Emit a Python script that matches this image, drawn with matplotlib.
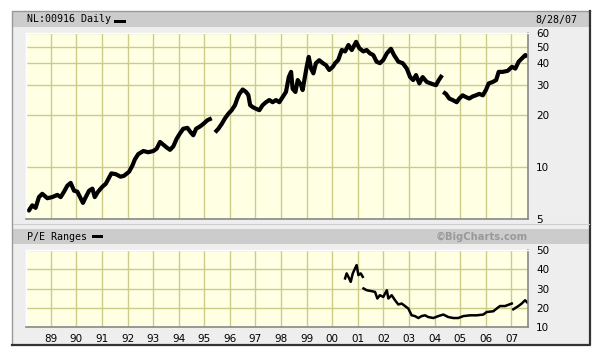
import numpy as np
import matplotlib
matplotlib.use("Agg")
import matplotlib.pyplot as plt
from matplotlib.patches import Rectangle

# ---------------- data (decimal years) ----------------
price_years = [1988.09, 1988.15, 1988.28, 1988.41, 1988.54, 1988.67, 1988.87, 1989.06, 1989.26,
               1989.39, 1989.52, 1989.65, 1989.78, 1989.91, 1990.04, 1990.17, 1990.26, 1990.37,
               1990.50, 1990.63, 1990.72, 1990.85, 1991.02, 1991.15, 1991.28, 1991.37, 1991.54,
               1991.73, 1991.86, 1992.06, 1992.19, 1992.29, 1992.42, 1992.62, 1992.81, 1993.01,
               1993.14, 1993.27, 1993.40, 1993.53, 1993.66, 1993.79, 1993.92, 1994.05, 1994.18,
               1994.34, 1994.47, 1994.57, 1994.68, 1994.83, 1994.96, 1995.12, 1995.29, 1995.35,
               1995.39, 1995.42, 1995.55, 1995.68, 1995.81, 1995.94, 1996.07, 1996.20, 1996.29,
               1996.37, 1996.50, 1996.63, 1996.72, 1996.79, 1996.89, 1997.02, 1997.15, 1997.28,
               1997.41, 1997.54, 1997.67, 1997.80, 1997.93, 1998.06, 1998.19, 1998.30, 1998.39,
               1998.45, 1998.56, 1998.65, 1998.78, 1998.84, 1998.93, 1999.00, 1999.08, 1999.17,
               1999.26, 1999.36, 1999.49, 1999.63, 1999.75, 1999.88, 2000.02, 2000.11, 2000.23,
               2000.37, 2000.50, 2000.63, 2000.76, 2000.93, 2001.06, 2001.21, 2001.34, 2001.47,
               2001.60, 2001.73, 2001.86, 2001.99, 2002.13, 2002.29, 2002.41, 2002.58, 2002.75,
               2002.91, 2003.04, 2003.16, 2003.27, 2003.40, 2003.53, 2003.69, 2003.79, 2003.92,
               2004.05, 2004.16, 2004.29, 2004.30, 2004.33, 2004.44, 2004.57, 2004.70, 2004.86,
               2004.96, 2005.09, 2005.22, 2005.35, 2005.48, 2005.61, 2005.74, 2005.88, 2006.00,
               2006.11, 2006.27, 2006.40, 2006.50, 2006.66, 2006.85, 2007.02, 2007.15, 2007.28,
               2007.41, 2007.54, 2007.62]
price_values = [5.7, 5.6, 6.0, 5.8, 6.7, 7.0, 6.6, 6.7, 6.9,
                6.7, 7.2, 7.8, 8.1, 7.3, 7.2, 6.6, 6.2, 6.7,
                7.3, 7.5, 6.7, 7.2, 7.7, 8.0, 8.7, 9.2, 9.1,
                8.8, 8.9, 9.4, 10.2, 11.1, 11.9, 12.4, 12.2, 12.4,
                12.8, 14.0, 13.5, 13.0, 12.6, 13.2, 14.6, 15.7, 16.7,
                16.9, 15.9, 15.3, 16.7, 17.2, 17.8, 18.7, 19.2, np.nan,
                np.nan, 15.9, 16.7, 17.8, 19.2, 20.4, 21.4, 22.9, 25.0,
                26.6, 28.2, 27.3, 26.2, 22.9, 22.3, 21.8, 21.4, 22.9,
                23.8, 24.5, 23.8, 24.5, 23.8, 25.5, 27.3, 33.3, 35.7,
                28.5, 27.3, 32.0, 29.9, 28.0, 33.3, 38.2, 43.6, 37.3,
                35.0, 40.1, 41.7, 40.1, 39.1, 36.6, 38.2, 40.1, 41.8,
                47.8, 46.9, 51.1, 47.8, 53.3, 48.9, 46.9, 47.8, 45.7,
                44.7, 40.9, 40.1, 41.8, 45.7, 48.6, 44.7, 40.9, 40.1,
                37.3, 33.3, 32.0, 34.2, 30.6, 33.3, 31.2, 30.8, 30.3,
                29.9, 32.0, 34.2, np.nan, 27.3, 26.6, 25.0, 24.5, 23.8,
                25.0, 26.1, 25.5, 25.0, 25.7, 26.1, 26.6, 26.1, 28.0,
                30.6, 31.2, 32.0, 35.7, 35.7, 36.2, 38.2, 37.3, 40.9,
                42.8, 44.7, 43.6]

pe_years = [2000.50, 2000.56, 2000.63, 2000.72, 2000.80, 2000.89, 2000.95, 2001.02, 2001.11,
            2001.19, 2001.20, 2001.22, 2001.34, 2001.54, 2001.67, 2001.76, 2001.86, 2001.99,
            2002.13, 2002.19, 2002.32, 2002.45, 2002.58, 2002.71, 2002.84, 2002.97, 2003.10,
            2003.23, 2003.36, 2003.49, 2003.62, 2003.75, 2003.95, 2004.14, 2004.34, 2004.53,
            2004.73, 2004.92, 2005.12, 2005.38, 2005.64, 2005.90, 2006.03, 2006.29, 2006.42,
            2006.55, 2006.75, 2007.01, 2007.04, 2007.07, 2007.27, 2007.40, 2007.53, 2007.62]
pe_values = [35.3, 37.9, 36.1, 33.5, 37.9, 40.5, 42.2, 37.0, 37.9,
             36.1, np.nan, 30.1, 29.2, 28.7, 28.3, 24.9, 26.6, 25.7,
             29.2, 24.9, 26.6, 24.0, 21.8, 22.3, 21.0, 19.7, 16.2,
             15.8, 14.8, 15.8, 16.2, 15.3, 14.8, 15.8, 16.6, 15.3,
             14.8, 14.8, 15.8, 16.2, 16.2, 16.6, 17.9, 18.3, 19.7,
             21.0, 21.0, 22.3, np.nan, 19.3, 21.0, 22.3, 24.0, 22.8]

year_ticks = list(range(1989, 2008))
year_labels = ["89", "90", "91", "92", "93", "94", "95", "96", "97", "98", "99",
               "00", "01", "02", "03", "04", "05", "06", "07"]
price_ticks = [5, 10, 20, 30, 40, 50, 60]
pe_ticks = [10, 20, 30, 40, 50]

# ---------------- layout ----------------
W, H = 603, 354
fig = plt.figure(figsize=(W / 100, H / 100), dpi=100)
fig.patch.set_facecolor("white")

def frac(l, t, r, b):
    return [l / W, 1 - b / H, (r - l) / W, (b - t) / H]

# background frame drawn in pixel space
bg = fig.add_axes([0, 0, 1, 1], zorder=0)
bg.set_xlim(0, W)
bg.set_ylim(H, 0)
bg.axis("off")
bg.add_patch(Rectangle((12, 11), 578, 334, facecolor="#eeeeee", edgecolor="none"))
bg.plot([12, 12, 590], [345, 11, 11], color="#999999", lw=1.0)
bg.plot([12, 590, 590], [345, 345, 11], color="#333333", lw=1.6)
bg.add_patch(Rectangle((13, 12), 576, 15, facecolor="#cccccc", edgecolor="none"))
bg.add_patch(Rectangle((13, 229), 576, 15, facecolor="#cccccc", edgecolor="none"))
bg.plot([13, 589], [224, 224], color="#cccccc", lw=0.8)

mono = dict(family="DejaVu Sans Mono", fontsize=7.2, color="black")
bg.text(27, 19.5, "NL:00916 Daily", va="center", ha="left", **mono)
bg.add_patch(Rectangle((114, 19.5), 12, 3, facecolor="black", edgecolor="none"))
bg.text(577, 19.5, "8/28/07", va="center", ha="right", **mono)
bg.text(27, 236.5, "P/E Ranges", va="center", ha="left", **mono)
bg.add_patch(Rectangle((92, 235), 11, 3, facecolor="black", edgecolor="none"))
bg.text(528, 236.5, "\u00a9BigCharts.com", va="center", ha="right",
        family="DejaVu Sans", fontsize=7.2, fontweight="bold", color="#999999")

plot_bg = "#ffffe4"
grid_c = "#cccc88"
xlim = (1988.035, 2007.633)

def style(ax):
    ax.set_facecolor(plot_bg)
    ax.set_xlim(*xlim)
    for s in ("left", "top"):
        ax.spines[s].set_color("white")
        ax.spines[s].set_linewidth(1.0)
    for s in ("right", "bottom"):
        ax.spines[s].set_color("#888888")
        ax.spines[s].set_linewidth(1.2)
    ax.set_xticks(year_ticks)
    ax.tick_params(length=0, labelsize=7.5, colors="black")
    ax.yaxis.tick_right()
    ax.grid(True, color=grid_c, lw=1.0)
    ax.set_axisbelow(True)

# main price axes
ax = fig.add_axes(frac(26, 33, 527.7, 219), zorder=2)
style(ax)
ax.set_yscale("log")
ax.set_ylim(5, 60)
ax.set_yticks(price_ticks)
ax.set_yticklabels([str(t) for t in price_ticks])
ax.yaxis.set_minor_locator(matplotlib.ticker.NullLocator())
ax.tick_params(axis="y", pad=6)
ax.set_xticklabels([])
ax.plot(price_years, price_values, color="black", lw=3.0, solid_joinstyle="round",
        solid_capstyle="butt")

# P/E axes
ax2 = fig.add_axes(frac(26, 250, 527.7, 327.3), zorder=2)
style(ax2)
ax2.set_ylim(10, 50)
ax2.set_yticks(pe_ticks)
ax2.set_yticklabels([str(t) for t in pe_ticks])
ax2.tick_params(axis="y", pad=6)
ax2.set_xticklabels(year_labels)
ax2.tick_params(axis="x", pad=5)
ax2.plot(pe_years, pe_values, color="black", lw=1.8, solid_joinstyle="round")

fig.savefig("out.png", dpi=100)
